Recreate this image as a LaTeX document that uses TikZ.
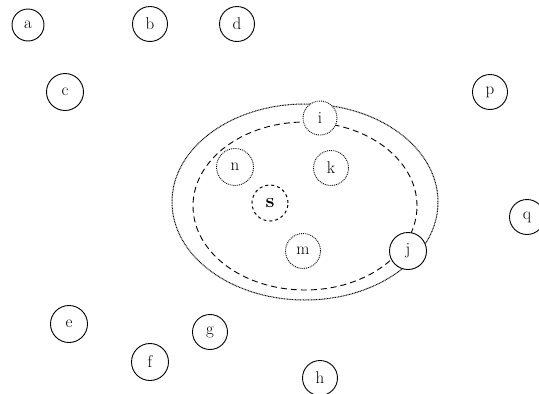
\documentclass[tikz,border=0pt]{standalone}
\begin{document}
\begin{tikzpicture}[x=1pt,y=-1pt,
  vtx/.style={circle,draw,line width=0.9pt,fill=white,inner sep=0pt,minimum size=#1,font=\fontsize{17}{17}\selectfont},
  vtx/.default=35pt,
  dotv/.style={vtx=#1,densely dotted,line width=0.9pt},
  dotv/.default=35pt,
  dashv/.style={vtx=#1,dashed,line width=1pt,font=\fontsize{20}{20}\selectfont\bfseries},
  dashv/.default=36pt,
  ringdot/.style={draw,line width=1pt,dash pattern=on 0.9pt off 0.7pt},
  ringdash/.style={draw,line width=0.9pt,dash pattern=on 6pt off 4pt}]
\useasboundingbox (0,0) rectangle (539,394);
\path[ringdot] (305,202) ellipse [x radius=133pt,y radius=98pt];
\path[ringdash] (305,206) ellipse [x radius=112pt,y radius=84pt];
\node[vtx=32pt] (a) at (28,25) {a};
\node[vtx] (b) at (150,24) {b};
\node[vtx] (d) at (237,24) {d};
\node[vtx=37pt] (c) at (65,92) {c};
\node[vtx] (p) at (490,92) {p};
\node[vtx] (q) at (527,217) {q};
\node[dotv=34pt] (i) at (320,118) {i};
\node[dotv=37pt] (n) at (235,167) {n};
\node[dotv] (k) at (331,168) {k};
\node[dashv] (s) at (270,203) {s};
\node[dotv] (m) at (303,251) {m};
\node[vtx=37pt] (j) at (408,251) {j};
\node[vtx=37pt] (e) at (69,324) {e};
\node[vtx] (g) at (210,332) {g};
\node[vtx=37pt] (f) at (150,362) {f};
\node[vtx] (h) at (320,378) {h};
\end{tikzpicture}
\end{document}
